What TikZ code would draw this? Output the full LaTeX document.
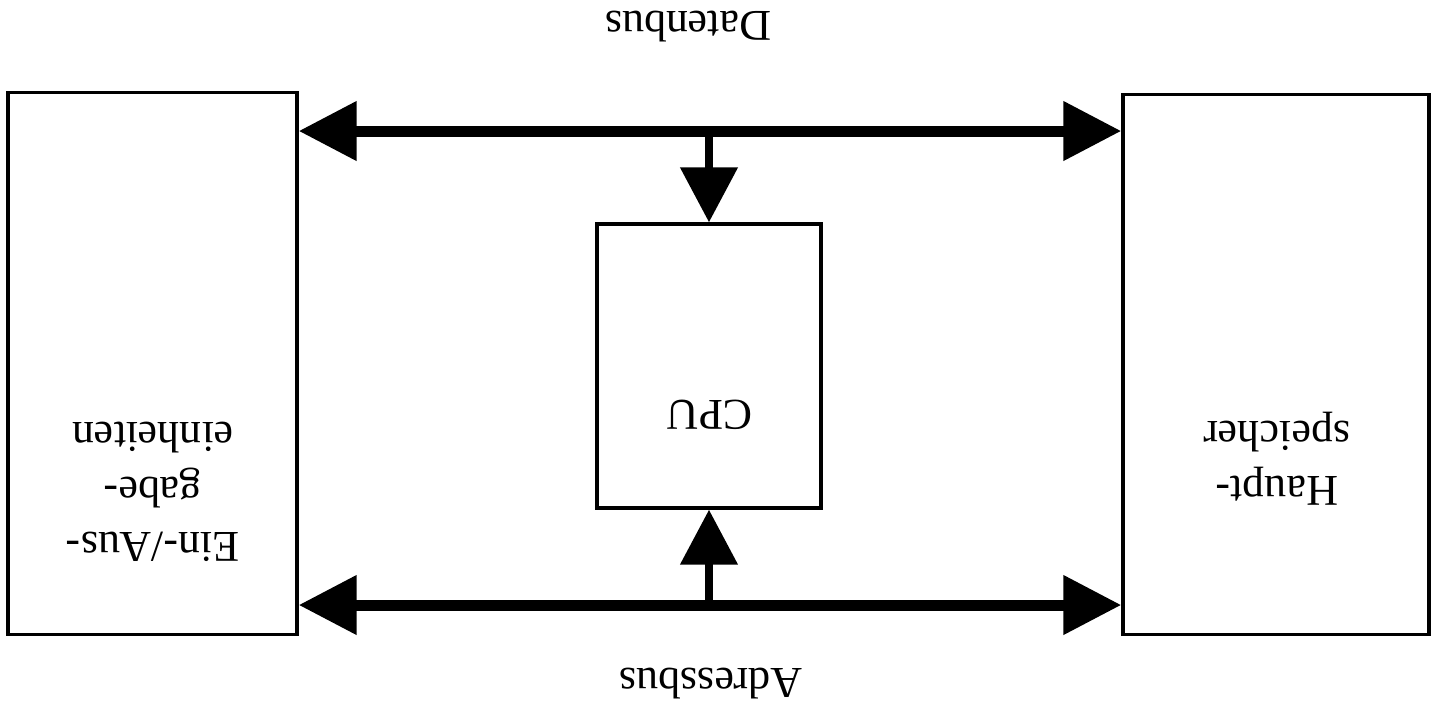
\documentclass[tikz,border=0pt]{standalone}
\usepackage{fontspec}
\setmainfont{Liberation Serif}
\usepackage{tikz}
\usetikzlibrary{arrows.meta,positioning}
\tikzset{
  unit/.style={draw, line width=0.032cm, inner sep=0pt},
  lbl/.style={rotate=180, align=center, inner sep=0pt,
              font=\fontsize{12.5}{15.6}\selectfont},
  bus/.style={line width=0.11cm,
              {Triangle[length=0.58cm, width=0.57cm]}-{Triangle[length=0.58cm, width=0.57cm]}},
  tap/.style={line width=0.08cm, -{Triangle[length=0.55cm, width=0.56cm]}},
}
\begin{document}
\begin{tikzpicture}[x=0.01cm, y=-0.01cm]
  \useasboundingbox (0,0) rectangle (1432,714);
  % boxes
  \node[unit, minimum width=2.89cm, minimum height=5.41cm] (io) at (152.5,363.5) {};
  \node[unit, minimum width=3.06cm, minimum height=5.39cm] (mem) at (1276,364.5) {};
  \node[unit, minimum width=2.24cm, minimum height=2.84cm] (cpu) at (709,366) {};
  \node[lbl] (iotxt) at (153,492) {Ein-/Aus-\\gabe-\\einheiten};
  \node[lbl] (memtxt) at (1277,459) {Haupt-\\speicher};
  \node[lbl] (cputxt) at (710,415) {CPU};
  % buses
  \coordinate (db) at (709,131);
  \coordinate (ab) at (709,605);
  \draw[bus] (io.east |- db) -- (mem.west |- db);
  \draw[bus] (io.east |- ab) -- (mem.west |- ab);
  \draw[tap] (db) -- (cpu);
  \draw[tap] (ab) -- (cpu);
  \node[lbl] (dbtxt) at (688,27) {Datenbus};
  \node[lbl] (abtxt) at (711,684) {Adressbus};
\end{tikzpicture}
\end{document}
